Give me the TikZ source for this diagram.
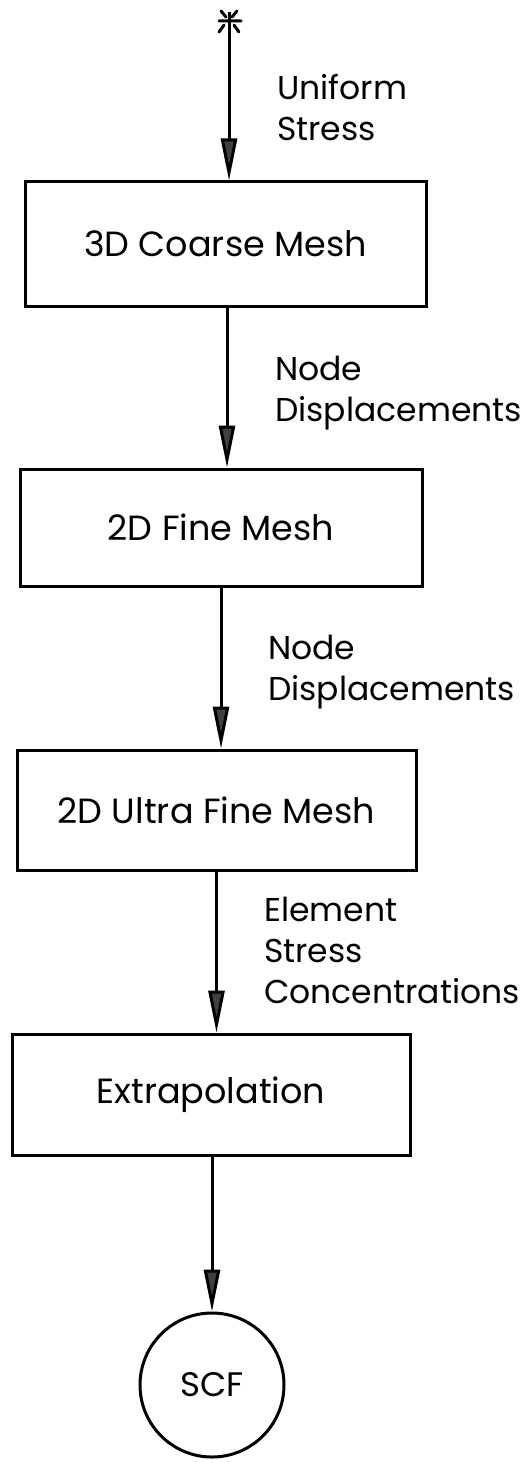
\documentclass[tikz,border=0pt]{standalone}
\usepackage{fontspec}
\setmainfont{Poppins}
\usetikzlibrary{arrows.meta}
\tikzset{
  stagebox/.style={draw, line width=3pt, inner sep=0pt, font=\fontsize{35}{42}\selectfont},
  flowarrow/.style={line width=3pt, -{Triangle[width=16pt,length=42pt,fill=black!75]}},
  flowlabel/.style={anchor=north west, inner sep=0pt, align=left, font=\fontsize{33}{41}\selectfont},
}
\begin{document}
\begin{tikzpicture}[x=1pt,y=-1pt]
\useasboundingbox (0,0) rectangle (529,1463);
% start symbol
\coordinate (start) at (229,12);
\draw[line width=3pt, line cap=round]
  (219,21) -- (241,21)
  (221,11) -- (226,17) (237,11) -- (232,17)
  (224,25) -- (219,32) (234,25) -- (239,32);
% boxes
\node[stagebox, minimum width=401pt, minimum height=124pt] (b1) at (225.5,244) {3D Coarse Mesh};
\node[stagebox, minimum width=402pt, minimum height=117pt] (b2) at (221,527.5) {2D Fine Mesh};
\node[stagebox, minimum width=399pt, minimum height=120pt] (b3) at (216.5,810) {2D Ultra Fine Mesh};
\node[stagebox, minimum width=398pt, minimum height=121pt] (b4) at (211,1094.5) {Extrapolation};
\node[draw, circle, line width=3pt, minimum size=144pt, inner sep=0pt, font=\fontsize{34}{40}\selectfont] (scf) at (212,1385) {SCF};
% arrows
\draw[flowarrow] (start) -- (start |- b1.north);
\draw[flowarrow] ([xshift=1.5pt]b1.south) -- ([xshift=1.5pt]b1.south |- b2.north);
\draw[flowarrow] (b2.south) -- (b2.south |- b3.north);
\draw[flowarrow] (b3.south) -- (b3.south |- b4.north);
\draw[flowarrow] ([xshift=1pt]b4.south) -- (scf.north);
% labels
\node[flowlabel] (l1) at (277,74) {Uniform\\Stress};
\node[flowlabel] (l2) at (275,356) {Node\\Displacements};
\node[flowlabel] (l3) at (268,635) {Node\\Displacements};
\node[flowlabel] (l4) at (264,897) {Element\\Stress\\Concentrations};
\end{tikzpicture}
\end{document}
